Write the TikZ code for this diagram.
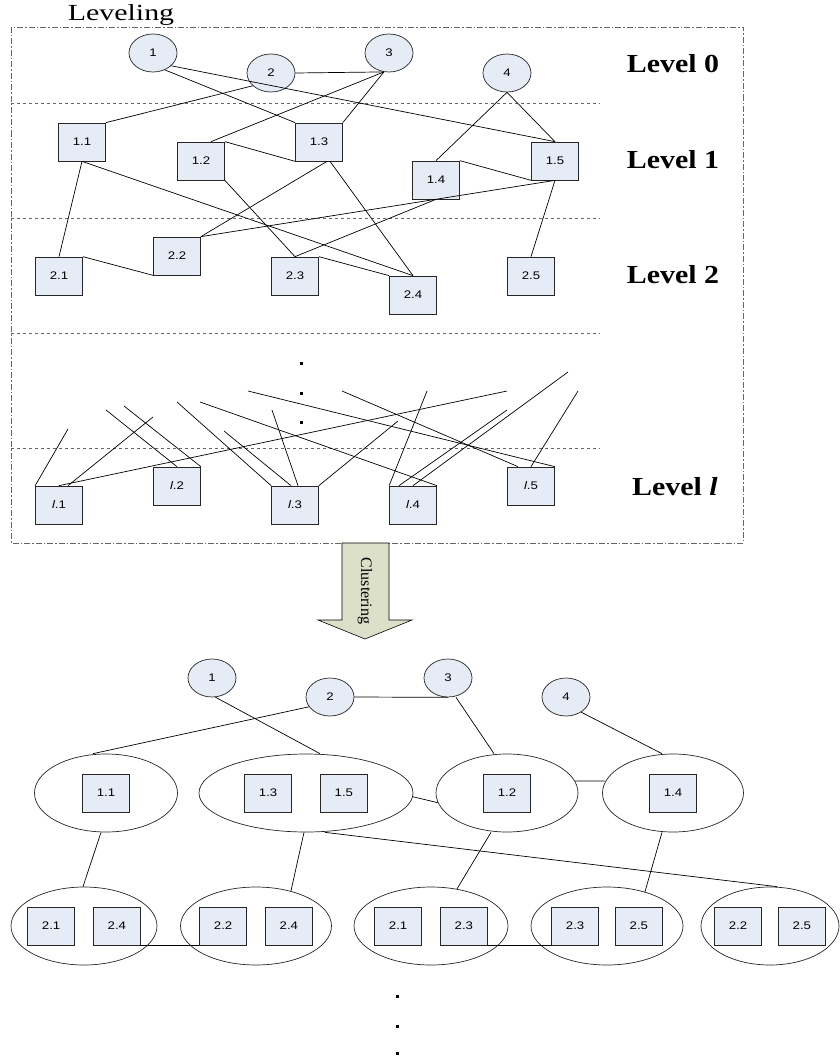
\documentclass[tikz,border=0pt]{standalone}
\usepackage{fontspec}
\setmainfont{Liberation Serif}
\newfontfamily\lblfont[FakeStretch=1.2]{Liberation Sans}
\newfontfamily\lvlfont[FakeStretch=1.15]{Liberation Serif}
\newfontfamily\ttlfont[FakeStretch=1.3]{Liberation Serif}
\usetikzlibrary{shapes, positioning}
\definecolor{boxblue}{HTML}{E6ECF6}
\definecolor{arrowgreen}{HTML}{DCE0C8}

\begin{document}
\begin{tikzpicture}[x=1pt, y=-1pt, line width=0.7pt,
  box/.style={rectangle, draw=black!85, fill=boxblue, minimum width=47pt, minimum height=38pt, inner sep=0pt, font=\lblfont\fontsize{11}{13}\selectfont},
  job/.style={ellipse, draw=black!85, fill=boxblue, minimum width=48pt, minimum height=38pt, inner sep=0pt, font=\lblfont\fontsize{11}{13}\selectfont},
  clus/.style={ellipse, draw=black!85, fill=white, minimum width=148pt, minimum height=78pt, inner sep=0pt},
  lvl/.style={font=\lvlfont\fontsize{26}{30}\selectfont\bfseries},
  sep/.style={dashed, black!60, line width=0.6pt},
  vdot/.style={fill=black, minimum size=3pt, inner sep=0pt}]

\useasboundingbox (0,0) rectangle (839,1062);

% leveling frame
\draw[black!60, line width=0.6pt, dash pattern=on 6pt off 2pt on 1.5pt off 2pt] (11,27) rectangle (743,543);
\node[font=\ttlfont\fontsize{23}{26}\selectfont] (ttl) at (121,15) {Leveling};
\foreach \y in {103,218,333,448} \draw[sep] (11,\y) -- (600,\y);

\node[lvl] (lvl0) at (673,64) {Level 0};
\node[lvl] (lvl1) at (673,160) {Level 1};
\node[lvl] (lvl2) at (673,275) {Level 2};
\node[lvl] (lvll) at (675,487) {Level \textit{l}};

% level 0
\node[job] (t1) at (153,53) {1};
\node[job] (t2) at (271,73) {2};
\node[job] (t3) at (389,53) {3};
\node[job] (t4) at (507,73) {4};

% level 1
\node[box] (a11) at (82,142) {1.1};
\node[box] (a12) at (201,161) {1.2};
\node[box] (a13) at (319,142) {1.3};
\node[box] (a14) at (436,180) {1.4};
\node[box] (a15) at (555,161) {1.5};

% level 2
\node[box] (b21) at (59,276) {2.1};
\node[box] (b22) at (177,256) {2.2};
\node[box] (b23) at (295,276) {2.3};
\node[box] (b24) at (413,295) {2.4};
\node[box] (b25) at (531,276) {2.5};

% level l
\node[box] (c1) at (59,505) {{\itshape l}.1};
\node[box] (c2) at (177,486) {{\itshape l}.2};
\node[box] (c3) at (295,505) {{\itshape l}.3};
\node[box] (c4) at (413,505) {{\itshape l}.4};
\node[box] (c5) at (531,486) {{\itshape l}.5};

\node[vdot] (v1) at (301,363) {};
\node[vdot] (v2) at (301,393) {};
\node[vdot] (v3) at (301,422) {};

\draw (t1.-55) -- (a13.north west);
\draw (t1.-35) -- (a15.north);
\draw (t2.east) -- (t3.-105);
\draw (t2.-145) -- (a11.north east);
\draw (t3.-105) -- ([xshift=10pt]a12.north);
\draw (t3.-105) -- (a13.north east);
\draw (t4.south) -- (a14.north);
\draw (t4.south) -- (a15.north);
\draw (a12.north east) -- (a13.south west);
\draw (a14.north east) -- (a15.south west);
\draw (a11.south) -- (b21.north);
\draw (a11.south) -- (b24.north);
\draw (a12.south east) -- (b23.north);
\draw ([xshift=8pt]a13.south) -- (b22.north east);
\draw ([xshift=11pt]a13.south) -- (b24.north);
\draw (a14.south) -- (b23.north);
\draw (a15.south) -- (b22.north east);
\draw (a15.south) -- (b25.north);
\draw (b21.north east) -- (b22.south west);
\draw (b23.north east) -- (b24.north west);

% edges from level l-1
\foreach \i/\x/\y in {1/68/429, 2/153/417, 3/507/391, 4/106/410, 5/124/406, 6/177/402, 7/224/431, 8/272/410,
  9/398/421, 10/200/402, 11/248/391, 12/342/391, 13/427/391, 14/507/410, 15/568/372, 16/578/391}
  \coordinate (e\i) at (\x,\y);
\draw (c1.north west) -- (e1);
\draw ([xshift=9pt]c1.north) -- (e2);
\draw (c1.north) -- (e3);
\draw (c2.north) -- (e4);
\draw (c2.north east) -- (e5);
\draw (c3.north west) -- (e6);
\draw ([xshift=-4pt]c3.north) -- (e7);
\draw ([xshift=3pt]c3.north) -- (e8);
\draw (c3.north east) -- (e9);
\draw (c4.north east) -- (e10);
\draw (c5.north east) -- (e11);
\draw ([xshift=-13pt]c5.north) -- (e12);
\draw (c4.north west) -- (e13);
\draw ([xshift=-14pt]c4.north) -- (e14);
\draw (c4.north) -- (e15);
\draw (c5.north) -- (e16);

% clustering arrow
\draw[fill=arrowgreen, line width=0.6pt] (342,543) -- (342,620) -- (318,620) -- (365,639) -- (412,620) -- (389,620) -- (389,543) -- cycle;
\node[rotate=-90, font=\fontsize{16}{18}\selectfont] (clu) at (365,591) {Clustering};

% clustered graph
\node[job] (u1) at (212,678) {1};
\node[job] (u2) at (330,697) {2};
\node[job] (u3) at (448,678) {3};
\node[job] (u4) at (566,697) {4};

\node[clus, minimum width=143pt] (k11) at (106,793) {};
\node[clus, minimum width=214pt] (k1315) at (306,793) {};
\node[clus, minimum width=142pt] (k12) at (507,793) {};
\node[clus, minimum width=141pt] (k14) at (673,793) {};
\node[box] (p11) at (k11.center) {1.1};
\node[box, left=14pt of k1315.center] (p13) {1.3};
\node[box, right=14pt of k1315.center] (p15) {1.5};
\node[box] (p12) at (k12.center) {1.2};
\node[box] (p14) at (k14.center) {1.4};

\node[clus, minimum width=146pt] (m1) at (84,926) {};
\node[clus, minimum width=151pt] (m2) at (256,926) {};
\node[clus, minimum width=154pt] (m3) at (431,926) {};
\node[clus, minimum width=152pt] (m4) at (607,926) {};
\node[clus, minimum width=138pt] (m5) at (770,926) {};
\node[box, left=9pt of m1.center] (r1a) {2.1};
\node[box, right=9pt of m1.center] (r1b) {2.4};
\node[box, left=9pt of m2.center] (r2a) {2.2};
\node[box, right=9pt of m2.center] (r2b) {2.4};
\node[box, left=9pt of m3.center] (r3a) {2.1};
\node[box, right=9pt of m3.center] (r3b) {2.3};
\node[box, left=8pt of m4.center] (r4a) {2.3};
\node[box, right=8pt of m4.center] (r4b) {2.5};
\node[box, left=8pt of m5.center] (r5a) {2.2};
\node[box, right=8pt of m5.center] (r5b) {2.5};

\draw (u2.east) -- (u3.south);
\draw ([xshift=8pt]u3.south) -- ([xshift=-13pt]k12.north);
\draw (u4.-45) -- ([xshift=-11pt]k14.north);
\draw (u1.-80) -- ([xshift=14pt]k1315.north);
\draw (u2.-155) -- ([xshift=-13pt]k11.north);
\draw (k1315.-2) -- (k12.188);
\draw (k12.10) -- (k14.170);
\draw ([xshift=-5pt]k11.south) -- ([xshift=-1pt]m1.north);
\draw ([xshift=-2pt]k1315.south) -- (m2.45);
\draw ([xshift=19pt]k1315.south) -- ([xshift=7pt]m5.north);
\draw ([xshift=-16pt]k12.south) -- (m3.55);
\draw ([xshift=-11pt]k14.south) -- (m4.42);
\draw (r1b.south east) -- (r2a.south west);
\draw (r3b.south east) -- (r4a.south west);

\node[vdot] (w1) at (397,996) {};
\node[vdot] (w2) at (397,1026) {};
\node[vdot] (w3) at (397,1053) {};

\end{tikzpicture}
\end{document}
